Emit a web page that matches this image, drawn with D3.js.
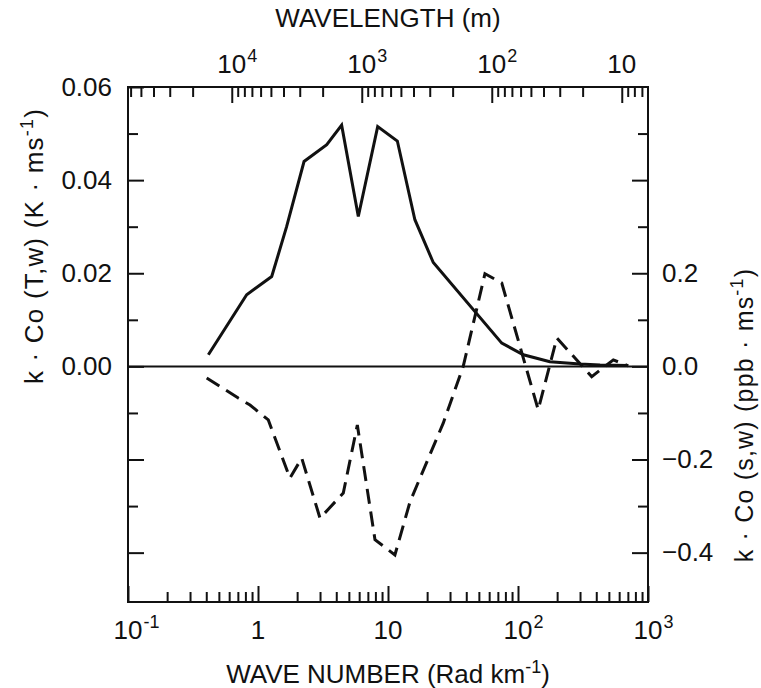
<!DOCTYPE html>
<html>
<head>
<meta charset="utf-8">
<script src="https://cdn.jsdelivr.net/npm/d3@7"></script>
<style>
body { margin: 0; background: #fff; }
text { font-family: "Liberation Sans", Arial, sans-serif; fill: #111; }
</style>
</head>
<body>
<svg id="chart" width="761" height="688"></svg>
<script>
// solid curve: k*Co(T,w), wave number in rad/km
const tempK  = [0.415, 0.818, 1.275, 1.66, 2.26, 3.38, 4.40, 5.91, 8.33, 11.8, 16.1, 22.3, 75, 110, 176, 300, 428, 702];
const tempCo = [0.0025, 0.0154, 0.0193, 0.0300, 0.0440, 0.0476, 0.0518, 0.0322, 0.0515, 0.0484, 0.0315, 0.0223, 0.0050, 0.0025, 0.0010, 0.0005, 0.0003, 0.0002];

// dashed curve: k*Co(s,w) in ppb m/s (right axis)
const scalK  = [0.403, 0.705, 0.868, 1.20, 1.76, 2.17, 3.00, 4.53, 5.81, 7.94, 11.3, 14.8, 26.6, 37.9, 55.7, 75, 143, 199, 369, 541, 705];
const scalCo = [-0.025, -0.068, -0.083, -0.115, -0.240, -0.197, -0.326, -0.272, -0.126, -0.372, -0.405, -0.290, -0.122, 0.0, 0.199, 0.179, -0.093, 0.061, -0.022, 0.014, 0.001];

// axis ticks
const kMajor = [0.1, 1, 10, 100, 1000];
const kLabelBase = ["10", "1", "10", "10", "10"];
const kLabelExp  = ["-1", "", "", "2", "3"];
const wlMajor = [1e4, 1e3, 1e2, 10];
const wlLabelBase = ["10", "10", "10", "10"];
const wlLabelExp  = ["4", "3", "2", ""];
const leftLabeled = [0.06, 0.04, 0.02, 0.00];
const leftMajorOther = [-0.02, -0.04];
const leftMinor = [0.05, 0.03, 0.01, -0.01, -0.03];
const rightLabeled = [0.2, 0.0, -0.2, -0.4];
const rightMajorOther = [0.4];
const rightMinor = [0.5, 0.3, 0.1, -0.1, -0.3];

const plotLeft = 128, plotRight = 648, plotTop = 87, plotBottom = 602;
const svg = d3.select("#chart");

const x = d3.scaleLog().domain([0.1, 1000]).range([plotLeft, plotRight]);
// wavelength in m = 2*pi*1000 / k
const wl = d3.scaleLog().domain([2000 * Math.PI / 0.1, 2000 * Math.PI / 1000]).range([plotLeft, plotRight]);
const yL = d3.scaleLinear().domain([-0.0506, 0.06]).range([plotBottom, plotTop]);
const yR = d3.scaleLinear().domain([-0.506, 0.6]).range([plotBottom, plotTop]);

function minorsLog(lo, hi) {
    let out = [];
    for (let p = Math.floor(Math.log10(lo)); p <= Math.ceil(Math.log10(hi)); p++) {
        for (let m = 2; m <= 9; m++) {
            let v = m * Math.pow(10, p);
            if (v > lo && v < hi) out.push(v);
        }
    }
    return out;
}
const kMinor = minorsLog(0.1, 1000);
const wlMinor = minorsLog(2000 * Math.PI / 1000, 2000 * Math.PI / 0.1);

function styleAxis(g) {
    g.select(".domain").remove();
    g.selectAll("line").attr("stroke", "#111").attr("stroke-width", 2);
    g.attr("font-family", null).attr("font-size", null);
    g.selectAll("text").style("font-size", "26px").attr("fill", "#111");
}

// bottom axis
svg.append("g").attr("transform", "translate(0," + plotBottom + ")")
    .call(d3.axisBottom(x).tickValues(kMajor).tickSize(-16).tickFormat("")).call(styleAxis);
svg.append("g").attr("transform", "translate(0," + plotBottom + ")")
    .call(d3.axisBottom(x).tickValues(kMinor).tickSize(-10).tickFormat("")).call(styleAxis);

// top axis
svg.append("g").attr("transform", "translate(0," + plotTop + ")")
    .call(d3.axisTop(wl).tickValues(wlMajor).tickSize(-16).tickFormat("")).call(styleAxis);
svg.append("g").attr("transform", "translate(0," + plotTop + ")")
    .call(d3.axisTop(wl).tickValues(wlMinor).tickSize(-10).tickFormat("")).call(styleAxis);

// left axis
svg.append("g").attr("transform", "translate(" + plotLeft + ",0)")
    .call(d3.axisLeft(yL).tickValues(leftLabeled).tickSize(-16).tickPadding(16).tickFormat(d3.format(".2f"))).call(styleAxis);
svg.append("g").attr("transform", "translate(" + plotLeft + ",0)")
    .call(d3.axisLeft(yL).tickValues(leftMajorOther).tickSize(-16).tickFormat("")).call(styleAxis);
svg.append("g").attr("transform", "translate(" + plotLeft + ",0)")
    .call(d3.axisLeft(yL).tickValues(leftMinor).tickSize(-10).tickFormat("")).call(styleAxis);

// right axis
svg.append("g").attr("transform", "translate(" + plotRight + ",0)")
    .call(d3.axisRight(yR).tickValues(rightLabeled).tickSize(-16).tickPadding(14).tickFormat(d3.format(".1f"))).call(styleAxis);
svg.append("g").attr("transform", "translate(" + plotRight + ",0)")
    .call(d3.axisRight(yR).tickValues(rightMajorOther).tickSize(-16).tickFormat("")).call(styleAxis);
svg.append("g").attr("transform", "translate(" + plotRight + ",0)")
    .call(d3.axisRight(yR).tickValues(rightMinor).tickSize(-10).tickFormat("")).call(styleAxis);

// power-of-ten labels: base centred on the tick, exponent hanging to the right
function powerLabels(vals, bases, exps, scale, baseY) {
    vals.forEach((v, i) => {
        let t = svg.append("text").attr("x", scale(v)).attr("y", baseY)
            .attr("text-anchor", "middle").style("font-size", "26px").text(bases[i]);
        if (exps[i]) {
            let w = t.node().getComputedTextLength();
            svg.append("text").attr("x", scale(v) + w / 2 + 1).attr("y", baseY - 11)
                .style("font-size", "18px").text(exps[i]);
        }
    });
}
powerLabels(kMajor, kLabelBase, kLabelExp, x, 639);
powerLabels(wlMajor, wlLabelBase, wlLabelExp, wl, 73);

// frame
svg.append("rect").attr("x", plotLeft).attr("y", plotTop)
    .attr("width", plotRight - plotLeft).attr("height", plotBottom - plotTop)
    .attr("fill", "none").attr("stroke", "#111").attr("stroke-width", 2);

// zero line
svg.append("line").attr("x1", plotLeft).attr("x2", plotRight)
    .attr("y1", yL(0)).attr("y2", yL(0))
    .attr("stroke", "#111").attr("stroke-width", 2);

// curves
const tempData = tempK.map((k, i) => ({k: k, v: tempCo[i]}));
const scalData = scalK.map((k, i) => ({k: k, v: scalCo[i]}));

svg.append("path").datum(tempData)
    .attr("fill", "none").attr("stroke", "#111").attr("stroke-width", 3)
    .attr("d", d3.line().x(d => x(d.k)).y(d => yL(d.v)));

svg.append("path").datum(scalData)
    .attr("fill", "none").attr("stroke", "#111").attr("stroke-width", 3)
    .attr("stroke-dasharray", "15,8")
    .attr("d", d3.line().x(d => x(d.k)).y(d => yR(d.v)));

// axis titles
svg.append("text").attr("x", (plotLeft + plotRight) / 2).attr("y", 27)
    .attr("text-anchor", "middle").style("font-size", "26px").text("WAVELENGTH (m)");

let bt = svg.append("text").attr("x", (plotLeft + plotRight) / 2).attr("y", 683)
    .attr("text-anchor", "middle").style("font-size", "26px");
bt.append("tspan").text("WAVE NUMBER (Rad km");
bt.append("tspan").attr("dy", -10).style("font-size", "18px").text("-1");
bt.append("tspan").attr("dy", 10).text(")");

let lt = svg.append("text").attr("transform", "translate(43,246) rotate(-90)")
    .attr("text-anchor", "middle").style("font-size", "26px").style("letter-spacing", "1.2px");
lt.append("tspan").text("k \u00b7 Co (T,w)  (K \u00b7 ms");
lt.append("tspan").attr("dy", -10).style("font-size", "18px").text("-1");
lt.append("tspan").attr("dy", 10).text(")");

let rt = svg.append("text").attr("transform", "translate(753,415) rotate(-90)")
    .attr("text-anchor", "middle").style("font-size", "25px").style("letter-spacing", "1.2px");
rt.append("tspan").text("k \u00b7 Co  (s,w)  (ppb \u00b7 ms");
rt.append("tspan").attr("dy", -10).style("font-size", "18px").text("-1");
rt.append("tspan").attr("dy", 10).text(")");
</script>
</body>
</html>
